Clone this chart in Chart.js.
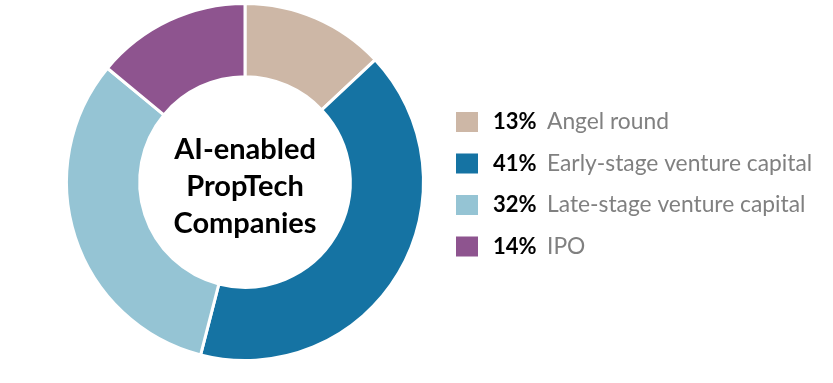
<!DOCTYPE html>
<html>
<head>
<meta charset="utf-8">
<script src="https://cdn.jsdelivr.net/npm/chart.js@4.4.0/dist/chart.umd.min.js"></script>
<style>
html,body{margin:0;padding:0;background:#fff;}
#wrap{width:833px;height:383px;position:relative;}
</style>
</head>
<body>
<div id="wrap"><canvas id="c" width="833" height="383"></canvas></div>
<script>
const categories = ["Angel round", "Early-stage venture capital", "Late-stage venture capital", "IPO"];
const shares = [13, 41, 32, 14];
const colors = ["#CDB7A6", "#1573A3", "#95C4D4", "#8E548F"];
const centerLines = ["AI-enabled", "PropTech", "Companies"];

const FONT = "Lato, 'Open Sans', sans-serif";

const centerText = {
  id: 'centerText',
  afterDraw(chart) {
    const ctx = chart.ctx;
    const meta = chart.getDatasetMeta(0);
    const arc = meta.data[0];
    const cx = arc.x;
    ctx.save();
    ctx.fillStyle = '#000';
    ctx.font = "bold 29px " + FONT;
    ctx.textAlign = 'center';
    ctx.textBaseline = 'alphabetic';
    const lh = 37;
    const base = 196;
    centerLines.forEach((t, i) => {
      ctx.fillText(t, cx, base + (i - 1) * lh);
    });
    ctx.restore();
  }
};

const sideLegend = {
  id: 'sideLegend',
  afterDraw(chart) {
    const ctx = chart.ctx;
    ctx.save();
    const rowY = [122, 163.5, 205, 246.5];
    categories.forEach((cat, i) => {
      const y = rowY[i];
      ctx.fillStyle = colors[i];
      ctx.fillRect(456, y - 10, 22, 20);
      ctx.textBaseline = 'middle';
      ctx.textAlign = 'left';
      ctx.fillStyle = '#000';
      ctx.font = "bold 22px " + FONT;
      ctx.fillText(shares[i] + '%', 493, y);
      ctx.fillStyle = '#808080';
      ctx.font = "22.8px " + FONT;
      ctx.fillText(cat, 547, y);
    });
    ctx.restore();
  }
};

new Chart(document.getElementById('c'), {
  type: 'doughnut',
  data: {
    labels: categories,
    datasets: [{
      data: shares,
      backgroundColor: colors,
      borderColor: '#ffffff',
      borderWidth: 3,
      hoverOffset: 0
    }]
  },
  options: {
    responsive: false,
    animation: false,
    cutout: '59%',
    layout: { padding: { left: 65, right: 408, top: 2, bottom: 21 } },
    plugins: {
      legend: { display: false },
      tooltip: { enabled: false }
    }
  },
  plugins: [centerText, sideLegend]
});
</script>
</body>
</html>
